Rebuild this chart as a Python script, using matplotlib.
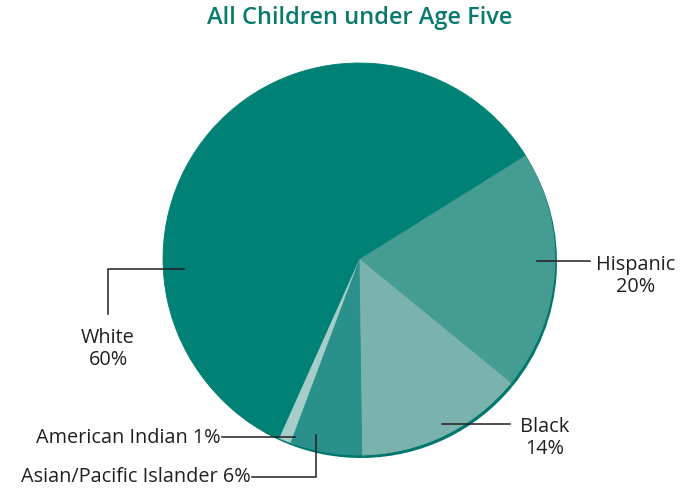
import numpy as np
import matplotlib.pyplot as plt

# data
groups = ['Hispanic', 'Black', 'Asian/Pacific Islander', 'American Indian', 'White']
shares = [20, 14, 6, 1, 60]
colors = ['#459c93', '#7ab3ad', '#2a918a', '#a6cdc9', '#008176']
title = 'All Children under Age Five'

W, H = 692, 489
fig = plt.figure(figsize=(W / 100, H / 100), dpi=100)
ax = fig.add_axes([0, 0, 1, 1])

cx, cy, r = 359, H - 260, 196

# thin darker rim on the lower right, fakes the tilt of the original
ax.pie(shares, colors=['#00766c'] * len(shares), startangle=32, counterclock=False,
       center=(cx + 2, cy - 3), radius=r, frame=True,
       wedgeprops=dict(linewidth=0))
ax.pie(shares, colors=colors, startangle=32, counterclock=False,
       center=(cx, cy), radius=r, frame=True,
       wedgeprops=dict(linewidth=0.6))
for w in ax.patches[len(shares):]:
    w.set_edgecolor(w.get_facecolor())

ax.set_xlim(0, W)
ax.set_ylim(0, H)
ax.set_aspect('equal')
ax.axis('off')

ink = '#231f20'
fs = 14.3
font = 'Open Sans'

def y(p):
    return H - p

lw = 1.1
# White
ax.plot([184, 108, 108], [y(270), y(270), y(315)], color=ink, lw=lw)
ax.text(108, y(349), 'White\n60%', ha='center', va='center', fontsize=fs,
        color=ink, family=font, linespacing=1.15)
# Hispanic
ax.plot([537, 590], [y(262), y(262)], color=ink, lw=lw)
ax.text(636, y(276), 'Hispanic\n20%', ha='center', va='center', fontsize=fs,
        color=ink, family=font, linespacing=1.15)
# Black
ax.plot([442, 510], [y(425), y(425)], color=ink, lw=lw)
ax.text(545, y(438), 'Black\n14%', ha='center', va='center', fontsize=fs,
        color=ink, family=font, linespacing=1.15)
# American Indian
ax.plot([222, 295], [y(438), y(438)], color=ink, lw=lw)
ax.text(221, y(438), 'American Indian 1%', ha='right', va='center', fontsize=fs,
        color=ink, family=font)
# Asian/Pacific Islander
ax.plot([316, 316, 252], [y(436), y(478), y(478)], color=ink, lw=lw)
ax.text(251, y(477), 'Asian/Pacific Islander 6%', ha='right', va='center',
        fontsize=fs, color=ink, family=font)

ax.text(360, y(18), title, ha='center', va='center', fontsize=17,
        color='#0a7a6e', family=font, weight='semibold')

fig.savefig('out.png', dpi=100)
